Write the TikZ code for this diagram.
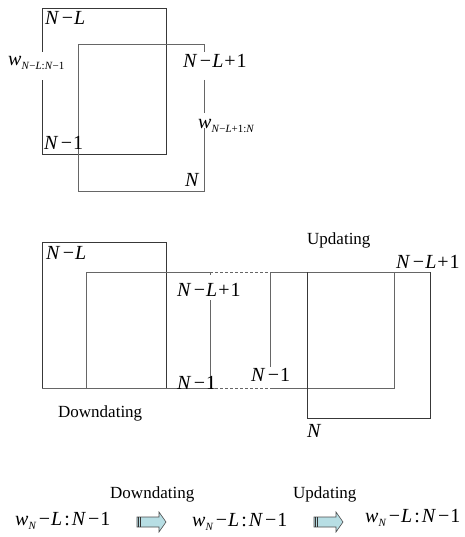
\documentclass[tikz,border=0pt]{standalone}
\usepackage{fontspec}
\setmainfont{Liberation Serif}
\newcommand\vN{\textit{N}}
\newcommand\vL{\textit{L}}
\newcommand\vw{\textit{w}}
\newcommand\mn{\kern2.5pt−\kern1pt}
\newcommand\pl{\kern1pt+\kern1pt}
\newcommand\subs[1]{\raisebox{-4pt}{\fontsize{11}{11}\selectfont #1}}
\newcommand\wrange{\vw\subs{\vN}\kern2.5pt−\kern1pt\vL\kern2pt:\kern2pt\vN\kern2pt−\kern1pt1}
\begin{document}
\begin{tikzpicture}[x=1pt,y=-1pt,
  win/.style={draw=black!78, line width=0.8pt},
  winlt/.style={draw=black!60, line width=0.8pt},
  dash line/.style={draw=black!60, line width=0.8pt, dash pattern=on 3pt off 2pt},
  mlab/.style={inner sep=0pt, anchor=base west, font=\fontsize{20}{20}\selectfont},
  tlab/.style={inner sep=0pt, anchor=base west, font=\fontsize{17}{17}\selectfont},
  blockarrow/.style={draw=black!70, line width=0.6pt, fill={rgb,255:red,183;green,222;blue,228}}]
\useasboundingbox (0,0) rectangle (464,537);

% ---- two overlapping windows ----
\draw[win] (42,52) -- (42,8) -- (166,8) -- (166,154) -- (42,154) -- (42,80);
\draw[winlt] (204,52) -- (204,44) -- (78,44) -- (78,191) -- (204,191) -- (204,128);
\draw[winlt] (204,80) -- (204,113);

\node[mlab] (t1) at (45,25) {\vN\mn\vL};
\node[mlab] (t2) at (8,66) {\vw\subs{\vN−\vL:\vN−1}};
\node[mlab] (t3) at (183,68) {\vN\mn\vL\pl1};
\node[mlab] (t4) at (198,129) {\vw\subs{\vN−\vL+1:\vN}};
\node[mlab] (t5) at (44,150) {\vN\mn1};
\node[mlab] (t6) at (185,186) {\vN};

% ---- downdating / updating steps ----
\draw[win] (42,242) rectangle (166,388);
\draw[winlt] (86,388) -- (86,272) -- (210,272) -- (210,275);
\draw[winlt] (210,300) -- (210,388) -- (42,388);
\draw[dash line] (210,272) -- (270,272);
\draw[dash line] (210,388) -- (270,388);
\draw[winlt] (270,367) -- (270,272) -- (430,272);
\draw[winlt] (270,388) -- (394,388) -- (394,272);
\draw[win] (307,272) -- (307,418) -- (430,418) -- (430,272);

\node[mlab] (m1) at (46,259) {\vN\mn\vL};
\node[mlab] (m2) at (177,296) {\vN\mn\vL\pl1};
\node[mlab] (m3) at (177,389) {\vN\mn1};
\node[mlab] (m4) at (251,381) {\vN\mn1};
\node[mlab] (m5) at (396,268) {\vN\mn\vL\pl1};
\node[mlab] (m6) at (307,437) {\vN};
\node[tlab] (m7) at (307,244) {Updating};
\node[tlab] (m8) at (58,417) {Downdating};

% ---- summary row ----
\node[tlab] (b1) at (110,498) {Downdating};
\node[tlab] (b2) at (293,498) {Updating};
\node[mlab] (r1) at (15,525) {\wrange};
\node[mlab] (r2) at (192,526) {\wrange};
\node[mlab] (r3) at (365,522) {\wrange};

\foreach \ax in {137,314}{
  \draw[blockarrow] (\ax,517) -- (\ax+22,517) -- (\ax+22,512) -- (\ax+29,522)
    -- (\ax+22,532) -- (\ax+22,527) -- (\ax,527) -- cycle;
  \draw[black!80, line width=0.7pt] (\ax+1.5,517) -- (\ax+1.5,527);
  \draw[black!80, line width=0.7pt] (\ax+3.5,517) -- (\ax+3.5,527);
}
\end{tikzpicture}
\end{document}
